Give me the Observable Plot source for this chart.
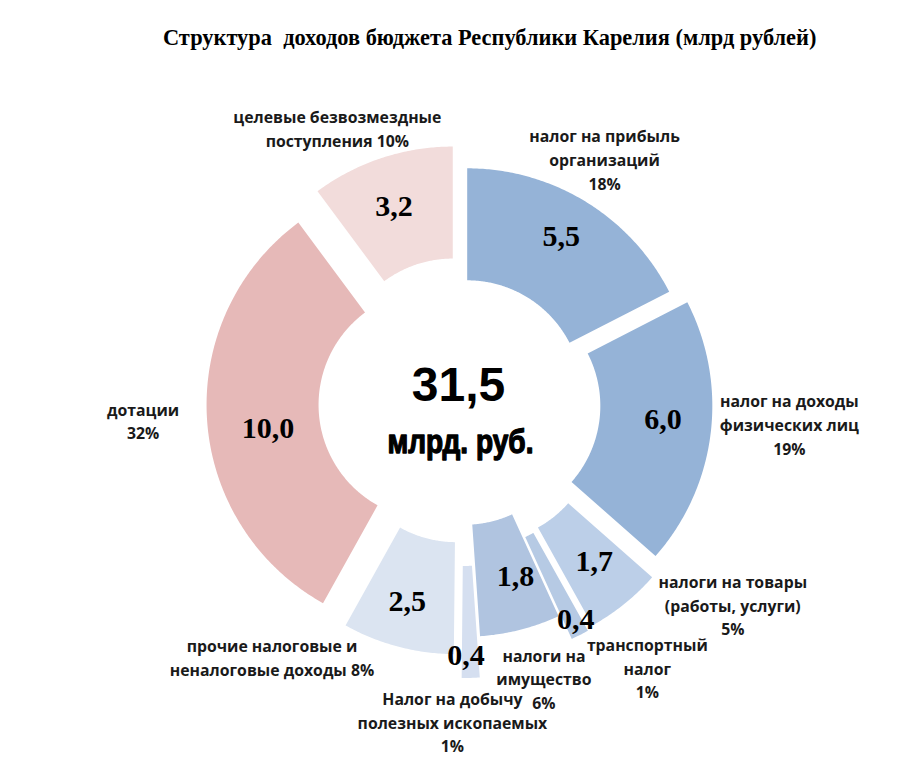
<!DOCTYPE html>
<html>
<head>
<meta charset="utf-8">
<script src="https://cdn.jsdelivr.net/npm/d3@7"></script>
<script src="https://cdn.jsdelivr.net/npm/@observablehq/plot@0.6"></script>
<style>
  html, body { margin: 0; padding: 0; background: #ffffff; overflow: hidden; }
  #title {
    height: 60px; box-sizing: border-box; padding-top: 25px;
    padding-left: 163px; white-space: pre;
    font-family: "Liberation Serif", "Times New Roman", serif;
    font-weight: bold; font-size: 22.4px; line-height: 26px; color: #000;
  }
  #chart svg { display: block; }
</style>
</head>
<body>
<div id="title">Структура  доходов бюджета Республики Карелия (млрд рублей)</div>
<div id="chart"></div>
<script>
// ---- data (clockwise from top) ----
const categories = [
  "налог на прибыль\nорганизаций",
  "налог на доходы\nфизических лиц",
  "налоги на товары\n(работы, услуги)",
  "транспортный\nналог",
  "налоги на\nимущество",
  "Налог на добычу\nполезных ископаемых",
  "прочие налоговые и\nненалоговые доходы",
  "дотации",
  "целевые безвозмездные\nпоступления"
];
const values = [5.5, 6.0, 1.7, 0.4, 1.8, 0.4, 2.5, 10.0, 3.2];
const percents = [18, 19, 5, 1, 6, 1, 8, 32, 10];
const totalLabel = "31,5";
const unitLabel = "млрд. руб.";

// ---- style / layout ----
const colors = ["#95b3d7", "#95b3d7", "#bccfe8", "#b6cae4", "#b0c4e0", "#d5dff0", "#dbe4f1", "#e6b9b8", "#f2dcdb"];
const explode = [9, 23, 31, 33, 7, 48, 25, 29, 31];
const pctSep = ["\n", "\n", "\n", "\n", "\n", "\n", " ", "\n", " "];
const valueNudge = [[5, -13], [8, -8], [5, 1], [21, 34], [9, 1], [-3, 33], [-5, 9], [5, 12.5], [-5, -5]];
const labelNudge = [[7, -23.5], [56, -13.5], [94, -17.5], [57, 11.5], [18, 25.5], [-19, 20.5], [-120, -12.5], [-41, -1], [-37, -8.5]];
const cx = 462, cy = 402.5, r0 = 115, r1 = 227, rMid = 171, rLabel = 250;

const total = d3.sum(values);
let acc = 0;
const segs = values.map((v, i) => {
  const a0 = acc / total * 2 * Math.PI;
  acc += v;
  const a1 = acc / total * 2 * Math.PI;
  const am = (a0 + a1) / 2;
  const ox = cx + explode[i] * Math.sin(am);
  const oy = cy - explode[i] * Math.cos(am);
  return {i, v, a0, a1, am, ox, oy};
});

const pts = [];
for (const s of segs) {
  const n = Math.max(2, Math.ceil((s.a1 - s.a0) / (Math.PI / 360)));
  for (let k = 0; k <= n; k++) {
    const a = s.a0 + (s.a1 - s.a0) * k / n;
    pts.push({id: s.i, x: s.ox + r1 * Math.sin(a), y: s.oy - r1 * Math.cos(a), color: colors[s.i]});
  }
  for (let k = n; k >= 0; k--) {
    const a = s.a0 + (s.a1 - s.a0) * k / n;
    pts.push({id: s.i, x: s.ox + r0 * Math.sin(a), y: s.oy - r0 * Math.cos(a), color: colors[s.i]});
  }
}

const valueLabels = segs.map(s => ({
  x: s.ox + rMid * Math.sin(s.am) + valueNudge[s.i][0],
  y: s.oy - rMid * Math.cos(s.am) + valueNudge[s.i][1],
  text: s.v.toFixed(1).replace(".", ",")
}));
const catLabels = segs.map(s => ({
  x: s.ox + rLabel * Math.sin(s.am) + labelNudge[s.i][0],
  y: s.oy - rLabel * Math.cos(s.am) + labelNudge[s.i][1],
  text: categories[s.i] + pctSep[s.i] + percents[s.i] + "%"
}));

const chart = Plot.plot({
  width: 921,
  height: 717,
  margin: 0,
  x: {domain: [0, 921], range: [0, 921], axis: null},
  y: {domain: [60, 777], range: [0, 717], axis: null},
  color: {type: "identity"},
  marks: [
    Plot.line(pts, {x: "x", y: "y", z: "id", fill: "color", stroke: null, curve: "linear"}),
    Plot.text(valueLabels, {
      x: "x", y: "y", text: "text",
      fontFamily: "'Liberation Serif', 'Times New Roman', serif",
      fontWeight: "bold", fontSize: 30, fill: "#000"
    }),
    Plot.text(catLabels, {
      x: "x", y: "y", text: "text", lineHeight: 1.49,
      fontFamily: "'Open Sans', 'Noto Sans', sans-serif",
      fontWeight: "bold", fontSize: 15.8, fill: "#1a1a1a"
    }),
    Plot.text([totalLabel], {
      x: () => cx - 4, y: () => cy - 17, text: d => d,
      fontFamily: "'Liberation Sans', Arial, sans-serif",
      fontWeight: "bold", fontSize: 48, fill: "#000"
    }),
    Plot.text([unitLabel], {
      x: () => cx - 2, y: () => cy + 39, text: d => d,
      fontFamily: "'Liberation Sans', Arial, sans-serif",
      fontWeight: "bold", fontSize: 33, fill: "#000",
      stroke: "#000", strokeWidth: 1.3, className: "unit-label"
    })
  ]
});
// condense the unit label to the width of the original's narrow face
d3.select(chart).selectAll(".unit-label text")
  .attr("textLength", 146)
  .attr("lengthAdjust", "spacingAndGlyphs");
document.getElementById("chart").appendChild(chart);
</script>
</body>
</html>
